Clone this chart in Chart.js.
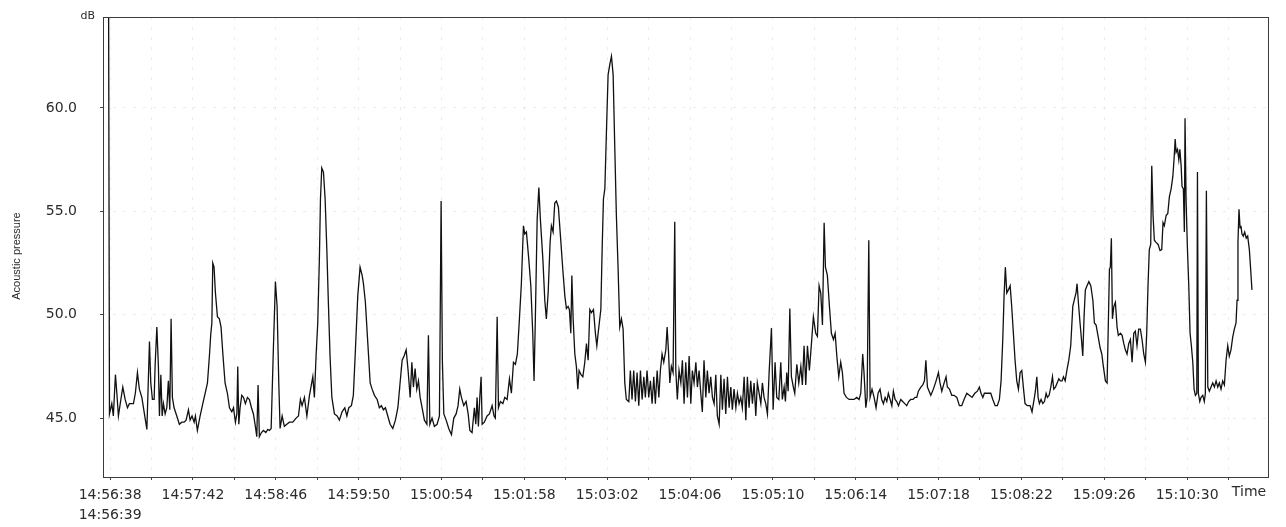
<!DOCTYPE html>
<html>
<head>
<meta charset="utf-8">
<title>Acoustic pressure</title>
<script src="https://cdn.jsdelivr.net/npm/chart.js@4/dist/chart.umd.min.js"></script>
<style>
  html, body { margin: 0; padding: 0; background: #fff; }
  canvas { display: block; }
</style>
</head>
<body>
<canvas id="noiseChart" width="1286" height="527"></canvas>
<script>
// seconds after 14:56:38
const sampleSeconds = [
  -1.5, -0.5, 1.3, 2.5, 4.1, 5.2, 6.4, 8.3, 9.8, 11.6, 13.4, 14.9, 16.8, 18, 19.5, 21.1, 22.6, 24.5, 26.5, 28.4,
  30.4, 31.4, 32.7, 34, 34.8, 36.1, 37.3, 38.1, 39.2, 40.2, 41.2, 42.5, 43.8, 45, 46.1, 47.1, 48.1, 49.4, 51.5, 53.5,
  55.4, 57.2, 58.7, 60.5, 61.8, 63.3, 64.9, 65.9, 67.4, 69.5, 71.6, 73.4, 75.2, 76.7, 77.8, 78.6, 79.3, 80.3, 81.3, 82.9,
  84.4, 85.7, 87.1, 88.8, 90.6, 92.2, 94, 95.3, 96.8, 97.9, 98.6, 99.4, 100.4, 101.7, 103, 104.5, 106.1, 107.6, 109.2, 110.7,
  112.2, 113.3, 114.3, 115.3, 116.9, 118.4, 120.3, 121.8,
  123.1, 124.4, 126.1, 127.7, 129, 130.3, 131.3, 132.9, 134.6, 136.5, 138.5, 141.1, 143.7, 145.5, 147, 148.3, 150.1, 152, 154, 156.6,
  157.8, 159.1, 160.4, 161.7, 162.5, 163.5, 164.8, 166.1, 167.4, 168.6, 169.9, 171.3, 173.3, 175.4, 177.1, 179.2, 181.3, 182.9, 184.4, 186.4,
  187.9, 189.5, 191.3, 193.1, 194.7, 195.7, 197.2, 199.1, 200.9, 202.4, 204.2, 206.3, 208, 209.6, 211.1, 212.7, 214.5, 216.3, 218.4, 220.4,
  222.3, 224, 225.6, 227.1, 228.7, 230.2, 231.8, 233.1, 234.3, 235.6, 236.9, 238.2, 239.5, 241, 242.8, 244.7, 245.9, 247, 248.7, 250.5,
  252.6, 254.4, 255.7, 256.7, 257.8, 259.6, 261.6, 263.7, 265.5, 267.3, 268.8, 270.1, 271.4, 273.2, 275, 276.6, 277.9, 279.6, 281.4, 282.5,
  283.5, 284.5, 285.6, 286.6, 287.4, 289.1, 291.2, 293, 295.1, 296.6, 297.6, 299, 300, 301.5, 303.4, 304.9, 306.7, 308.5, 310, 311.6,
  313.1, 314.6, 316.2, 317.7, 319.3, 320.3, 321.6, 323.4, 325, 326.5, 327.5, 328.5, 329.9, 331.2, 332.4, 334.3, 335.8, 337, 338.4, 339.9,
  340.9, 342.2, 343.5, 344.8, 346.3, 347.9, 349.7, 351.3, 352.5, 353.8, 354.8, 355.9, 356.7, 357.7, 359, 360.2, 361.3, 362.3, 363.8, 365.2,
  366.7, 368, 369.3, 370.6, 371.8, 373.4, 374.9, 376,
  377, 379.1, 380.1, 381.1, 382.2, 383.4, 384.7, 386, 387.3, 388.6, 389.9, 391.1, 392.4, 393.7, 395, 396.3, 397.6, 398.8, 400.7, 401.9,
  403.2, 404.5, 405.8, 407.1, 408.4, 409.7, 411, 412.3, 413.5, 414.8, 416.1, 417.4, 418.7, 420, 421.2, 422.6, 423.9, 425.1, 426.4, 427.7,
  429.3, 430.3, 431.3, 432.4, 433.6, 434.9, 436.2, 437, 438.2, 439.5, 440.9, 442.1, 443.4, 444.7, 446, 447.3, 448.6, 449.8, 451.1, 452.5,
  453.7, 455, 456.3, 457.5, 458.8, 460.2, 461.4, 462.7, 464, 465.3, 466.6, 467.9, 469.1, 470.5, 471.8, 473, 474.3, 475.6, 476.9, 478.2,
  479.5, 480.7, 482, 483.4, 484.6, 485.9, 487.2, 488.4, 489.8, 491.1, 492.3, 493.6, 494.9, 496.2, 497.5, 498.8, 500, 501.4, 502.7, 503.9,
  505.2,
  506.5, 507.8, 509.1, 510.9, 512.2, 513.7, 515, 516.6, 518.1, 519.3, 520.7, 521.7, 522.7, 523.8, 525.1, 526.3, 527.8, 528.9, 530.5, 532,
  533.6, 534.8, 536.1, 537.4, 538.7, 540.2, 541.8, 543.3, 545.1, 546.4, 547.7, 549, 550.3, 551.6, 552.6, 554.1, 555.7, 557.2, 558.8, 560.1,
  561.4, 562.9, 564.4, 565.7, 567, 568.8, 570.9, 573, 574.7, 576.8, 578.6, 579.9, 581.4, 582.4, 583.8, 584.8, 586.1, 587.1, 588.6, 590.2,
  591.7, 593.3, 594.8, 596.1, 597.4, 598.7, 600, 601.2, 602.6, 603.9, 605.1, 606.4, 607.7, 609, 610.8, 612.3, 613.9, 615.4, 616.9, 618.5,
  620.3, 621.8, 623.2, 624.4, 626.3, 627.8, 629.1, 630.2, 631.4, 632.7, 634,
  636, 638.1, 639.9, 641.1, 642.5, 644.3, 645.8, 646.8, 648.4, 650.2, 652, 654.1, 656.1, 657.9, 659.7, 661.8, 663.8, 665.9, 668, 670,
  671.5, 672.8, 674.2, 675.4, 676.7, 678.5, 680.3, 681.9, 683.7, 685.4, 687, 688.3, 689.6, 690.6, 691.6, 692.7, 693.9, 695.3, 696.5, 697.8,
  699.1, 700.4, 701.7, 703, 704.3, 705.5, 706.8, 708.6, 710.7, 712.2, 713.8, 714.8, 715.9, 716.9, 717.9, 719.2, 720.5, 721.8, 723.1, 724.1,
  725.4, 726.7, 728, 729, 730.3, 731.6, 732.9, 734.1, 735.4, 736.5, 737.8, 739.1, 740.6, 742.1, 743.7, 745.2, 746.2, 747, 748, 749.3,
  750.4, 751.4, 752.4, 753.4, 754.7, 756.1, 757.6, 759.2, 760.4, 761.7,
  763.4, 764.8, 766.1, 767.3, 768.9, 770.2, 771, 772, 772.7, 773.5, 774.3, 775.4, 776.6, 777.9, 778.9, 780.5, 781.8, 783.1, 784.3, 785.6,
  786.9, 788.2, 789.5, 790.8, 792, 793.3, 794.6, 795.9, 797.2, 798.5, 799.8, 800.8, 801.8, 802.8, 803.9, 804.7, 805.7, 806.7, 808, 809.6,
  811.1, 812.4, 813.4, 814.4, 815.8, 817.1, 818.3, 819.7, 821, 822, 822.8, 823.5, 824.6, 825.6, 826.4, 827.4, 828.1, 829.1, 829.9, 830.4,
  831.2, 832.2, 833.3, 834.3, 835.3, 836.4, 837.4, 838.4, 839.5, 840, 840.7, 841.8, 842.8, 844.1, 845.3, 846.1, 846.9, 848, 849.2, 850.5,
  851.8, 853.1, 854.4, 855.7, 856.9, 858.2, 859.5, 860.8, 862.1, 863.4, 864.6, 865.9, 867.2, 868.5, 869.8, 870.6, 871.3, 872.1, 872.9, 873.6,
  874.4, 875.4, 876.5, 877.7, 878.8, 880.1, 881.1, 882.1
];

const pressureDb = [
  75, 45.2, 45.7, 45.1, 47.1, 46.2, 45.1, 45.9, 46.5, 45.9, 45.5, 45.7, 45.7, 45.7, 46.2, 47.2, 46.4, 46.0, 45.2, 44.45,
  48.7, 46.7, 45.9, 45.9, 47.6, 49.4, 47.5, 45.1, 47.1, 45.1, 45.7, 45.2, 45.5, 46.8, 45.4, 49.8, 46.0, 45.5, 45.1, 44.7,
  44.8, 44.8, 44.9, 45.4, 44.9, 45.1, 44.8, 45.1, 44.4, 45.1, 45.7, 46.2, 46.7, 48.0, 49.1, 49.6, 52.5, 52.3, 51.1, 49.9,
  49.8, 49.4, 48.1, 46.7, 46.2, 45.5, 45.3, 45.5, 44.8, 45.2, 47.5, 44.7, 45.5, 46.1, 46.0, 45.7, 46.0, 45.9, 45.5, 45.2,
  44.6, 44.1, 46.6, 44.1, 44.3, 44.4, 44.3, 44.45,
  44.4, 44.5, 48.3, 51.6, 50.4, 46.7, 44.5, 45.1, 44.6, 44.7, 44.8, 44.8, 45.0, 45.1, 45.9, 45.6, 46.0, 45.1, 46.1, 47.0,
  46.0, 48.0, 49.6, 52.8, 55.6, 57.1, 56.9, 55.6, 53.2, 50.6, 48.0, 46.0, 45.2, 45.1, 44.9, 45.3, 45.5, 45.1, 45.5, 45.6,
  46.1, 48.3, 50.9, 52.3, 51.9, 51.5, 50.6, 48.6, 46.7, 46.4, 46.1, 45.9, 45.5, 45.6, 45.4, 45.5, 45.1, 44.7, 44.5, 44.9,
  45.5, 46.7, 47.8, 48.0, 48.3, 47.3, 46.0, 47.7, 46.5, 47.4, 46.4, 46.8, 46.0, 45.5, 44.9, 44.7, 49.0, 44.7, 45.0, 44.6,
  44.7, 45.1, 55.5, 47.7, 45.2, 44.9, 44.5, 44.2, 45.0, 45.2, 45.6, 46.4, 46.0, 45.6, 45.8, 45.2, 44.4, 44.3, 45.5, 44.7,
  46.0, 44.6, 46.0, 47.0, 44.7, 44.8, 45.1, 45.2, 45.6, 45.1, 45.0, 49.9, 45.5, 45.8, 45.7, 46.0, 45.9, 46.9, 46.2, 47.7,
  47.6, 48.1, 49.8, 51.5, 54.3, 53.9, 54.0, 52.7, 51.4, 49.1, 46.8, 49.8, 54.6, 56.15, 54.6, 52.7, 50.7, 49.8, 51.05, 53.5,
  54.3, 54.0, 55.4, 55.5, 55.2, 53.8, 52.2, 50.9, 50.3, 50.4, 50.25, 49.1, 51.9, 49.8, 48.1, 47.5, 46.4, 47.3, 47.1, 47.0,
  47.7, 48.6, 47.8, 50.25, 50.1, 50.25, 49.1, 48.5,
  49.1, 50.25, 53.15, 55.6, 56.1, 58.8, 61.6, 62.1, 62.5, 61.6, 58.0, 54.8, 52.3, 49.4, 49.8, 49.3, 46.7, 45.9, 45.8, 47.3,
  45.9, 47.3, 45.8, 47.2, 45.6, 47.3, 45.9, 47.0, 46.0, 47.3, 46.0, 46.8, 45.7, 47.0, 45.7, 47.3, 46.0, 47.3, 48.1, 47.7,
  48.3, 49.4, 48.3, 46.7, 47.5, 47.2, 54.5, 47.3, 45.9, 47.3, 46.7, 47.8, 45.7, 47.7, 46.0, 48.0, 45.7, 47.3, 46.7, 47.7,
  46.5, 47.3, 46.2, 45.3, 47.8, 46.0, 47.3, 46.2, 47.0, 46.0, 45.7, 47.1, 45.1, 44.7, 47.1, 45.4, 46.9, 45.2, 47.0, 45.5,
  46.5, 45.4, 46.4, 45.5, 46.2, 45.7, 46.0, 45.5, 47.0, 44.9, 47.0, 45.5, 46.8, 45.7, 46.7, 45.1, 46.7, 46.2, 45.7, 46.7,
  46.0,
  45.7, 45.2, 47.2, 49.35, 45.4, 47.7, 46.0, 45.9, 47.7, 45.9, 46.5, 45.8, 47.2, 46.3, 50.3, 47.0, 46.5, 46.2, 47.6, 46.7,
  47.5, 46.6, 48.5, 46.6, 48.5, 47.3, 48.6, 49.9, 49.1, 48.95, 51.4, 51.05, 49.5, 54.45, 52.3, 51.9, 50.4, 49.1, 48.8, 49.1,
  48.0, 47.0, 47.7, 47.2, 46.2, 46.0, 45.9, 45.9, 45.9, 46.0, 45.9, 46.2, 48.1, 47.2, 45.5, 46.0, 53.6, 46.0, 46.4, 46.0,
  45.5, 46.2, 46.4, 45.9, 45.7, 46.0, 45.8, 46.2, 45.9, 45.6, 46.3, 45.9, 45.8, 45.6, 45.9, 45.8, 45.7, 45.6, 45.8, 45.9,
  45.9, 46.0, 46.0, 46.3, 46.5, 46.6, 46.8, 47.8, 46.5, 46.3, 46.1,
  46.4, 46.8, 47.2, 46.7, 46.3, 46.7, 47.0, 46.5, 46.4, 46.1, 46.1, 46.0, 45.6, 45.6, 45.9, 46.2, 46.1, 46.0, 46.2, 46.3,
  46.5, 46.2, 46.0, 46.2, 46.2, 46.2, 46.2, 45.9, 45.6, 45.6, 45.9, 46.8, 48.8, 50.9, 52.3, 51.05, 51.2, 51.4, 50.4, 49.1,
  47.8, 46.8, 46.4, 47.2, 47.3, 46.5, 45.7, 45.6, 45.6, 45.3, 45.9, 46.3, 47.0, 46.0, 45.7, 45.9, 45.7, 45.8, 46.2, 46.0,
  46.1, 46.5, 47.0, 46.4, 46.5, 46.7, 46.9, 46.8, 46.8, 47.0, 46.8, 47.3, 47.8, 48.5, 50.4, 50.8, 51.05, 51.5, 50.6, 49.6,
  48.8, 48.0, 49.9, 51.2, 51.4, 51.6, 51.4, 50.7, 49.6, 49.5,
  48.9, 48.4, 48.1, 47.5, 46.8, 46.7, 49.1, 52.2, 52.3, 53.7, 49.8, 50.4, 50.6, 49.4, 49.0, 49.1, 49.0, 48.6, 48.3, 48.1,
  48.6, 48.8, 47.7, 49.1, 49.2, 48.5, 49.3, 49.3, 48.8, 48.1, 47.7, 49.1, 51.4, 53.15, 53.4, 57.2, 54.8, 53.6, 53.5, 53.4,
  53.1, 53.15, 54.45, 54.3, 54.8, 54.9, 55.7, 56.1, 56.7, 57.6, 58.5, 57.85, 58.0, 57.5, 58.0, 57.2, 56.2, 56.1, 54.0, 59.5,
  55.6, 53.3, 51.4, 49.1, 48.5, 47.7, 46.4, 46.1, 46.2, 56.9, 46.2, 45.8, 46.0, 46.1, 45.8, 46.2, 56.0, 46.5, 46.3, 46.5,
  46.7, 46.5, 46.8, 46.5, 46.7, 46.4, 46.8, 46.6, 47.8, 48.5, 48.0, 48.3, 48.9, 49.3, 49.6, 50.7, 53.5, 55.1, 54.2, 54.3,
  53.9, 53.8, 54.0, 53.7, 53.8, 53.15, 52.2, 51.2
];

const xTickSeconds = [0, 32, 64, 96, 128, 160, 192, 224, 256, 288, 320, 352, 384, 416, 448,
  480, 512, 544, 576, 608, 640, 672, 704, 736, 768, 800, 832, 864];
const xTickLabels = ["14:56:38", "", "14:57:42", "", "14:58:46", "", "14:59:50", "", "15:00:54", "",
  "15:01:58", "", "15:03:02", "", "15:04:06", "", "15:05:10", "", "15:06:14", "", "15:07:18", "",
  "15:08:22", "", "15:09:26", "", "15:10:30", ""];
const startLabel = "14:56:39";
const yTickValues = [45, 50, 55, 60];

const X_MIN = -5.5;
const X_MAX = 894.5;
const Y_MIN = 42.15;
const Y_MAX = 64.4;

const ink = "#2b2b2b";
const labelFont = "'DejaVu Sans', Verdana, sans-serif";

// box around the plot plus the small captions
const framePlugin = {
  id: "framePlugin",
  afterDraw(chart) {
    const { ctx, chartArea: a } = chart;
    ctx.save();
    ctx.strokeStyle = "#3c3c3c";
    ctx.lineWidth = 1;
    ctx.strokeRect(Math.round(a.left) + 0.5, Math.round(a.top) + 0.5,
      Math.round(a.right - a.left), Math.round(a.bottom - a.top));

    ctx.fillStyle = ink;
    ctx.textBaseline = "middle";
    ctx.font = "11px " + labelFont;
    ctx.textAlign = "right";
    ctx.fillText("dB", a.left - 8, a.top - 1);

    ctx.font = "14px " + labelFont;
    ctx.textAlign = "center";
    ctx.fillText("Time", 1249, 492);

    ctx.translate(17, 256);
    ctx.rotate(-Math.PI / 2);
    ctx.font = "11px 'Liberation Sans', Arial, sans-serif";
    ctx.fillText("Acoustic pressure", 0, 0);
    ctx.restore();
  }
};

function buildPoints() {
  return sampleSeconds.map((t, i) => ({ x: t, y: pressureDb[i] }));
}

function gridStyle() {
  return {
    color: "rgba(0,0,0,0.07)",
    tickLength: 3,
    tickColor: "#444",
    tickBorderDash: []
  };
}

function makeChart() {
  return new Chart(document.getElementById("noiseChart"), {
    type: "line",
    data: {
      datasets: [{
        data: buildPoints(),
        borderColor: "#111",
        borderWidth: 1.3,
        pointRadius: 0,
        tension: 0,
        fill: false
      }]
    },
    options: {
      responsive: false,
      animation: false,
      devicePixelRatio: 1,
      layout: { padding: { top: 17, right: 18, left: 0, bottom: 0 } },
      plugins: {
        legend: { display: false },
        tooltip: { enabled: false }
      },
      scales: {
        x: {
          type: "linear",
          min: X_MIN,
          max: X_MAX,
          afterBuildTicks: (scale) => {
            scale.ticks = xTickSeconds.map((v) => ({ value: v }));
          },
          afterFit: (scale) => {
            scale.height = 50;
            scale.paddingLeft = 0;
            scale.paddingRight = 0;
          },
          border: { display: false, dash: [3, 7] },
          grid: gridStyle(),
          ticks: {
            autoSkip: false,
            maxRotation: 0,
            minRotation: 0,
            padding: 5,
            color: ink,
            font: { family: labelFont, size: 14, lineHeight: 1.45 },
            callback: (value, index) => {
              const text = xTickLabels[index] || "";
              return index === 0 ? [text, startLabel] : text;
            }
          }
        },
        y: {
          type: "linear",
          min: Y_MIN,
          max: Y_MAX,
          afterBuildTicks: (scale) => {
            scale.ticks = yTickValues.map((v) => ({ value: v }));
          },
          afterFit: (scale) => {
            scale.width = 103;
            scale.paddingTop = 0;
            scale.paddingBottom = 0;
          },
          border: { display: false, dash: [3, 7] },
          grid: gridStyle(),
          ticks: {
            padding: 23,
            color: ink,
            font: { family: labelFont, size: 14 },
            callback: (value) => Number(value).toFixed(1)
          }
        }
      }
    },
    plugins: [framePlugin]
  });
}

makeChart();
</script>
</body>
</html>
